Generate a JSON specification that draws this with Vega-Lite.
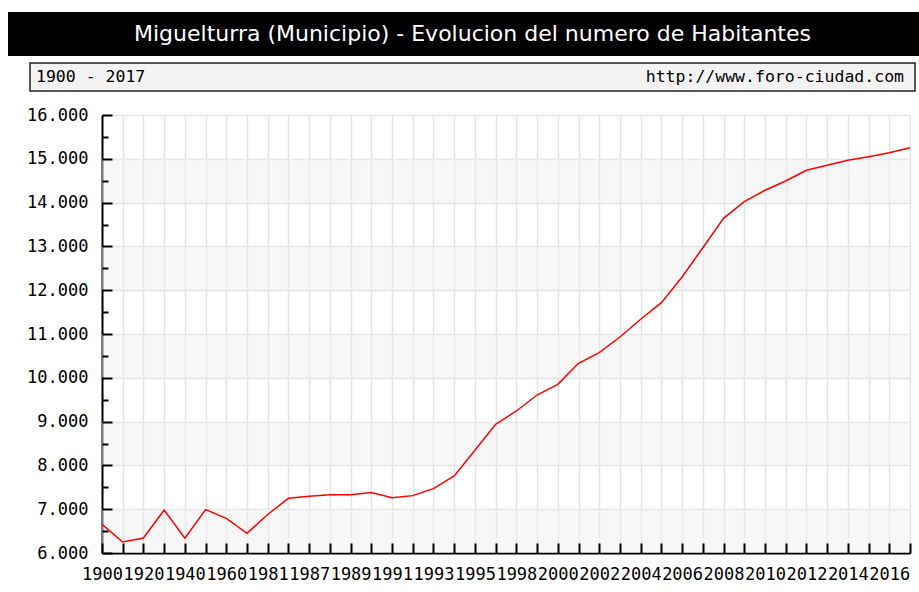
{
  "$schema": "https://vega.github.io/schema/vega-lite/v6.json",
  "background": "white",
  "padding": {"left": 8, "top": 12, "right": 0, "bottom": 0},
  "config": {"view": {"stroke": null}},
  "datasets": {
    "pop": [
      {"year": "1900", "value": 6655}, {"year": "1910", "value": 6251}, {"year": "1920", "value": 6342},
      {"year": "1930", "value": 6982}, {"year": "1940", "value": 6336}, {"year": "1950", "value": 6990},
      {"year": "1960", "value": 6792}, {"year": "1970", "value": 6450}, {"year": "1981", "value": 6880},
      {"year": "1986", "value": 7249}, {"year": "1987", "value": 7294}, {"year": "1988", "value": 7332},
      {"year": "1989", "value": 7332}, {"year": "1990", "value": 7380}, {"year": "1991", "value": 7263},
      {"year": "1992", "value": 7310}, {"year": "1993", "value": 7470}, {"year": "1994", "value": 7758},
      {"year": "1995", "value": 8345}, {"year": "1996", "value": 8938}, {"year": "1998", "value": 9242},
      {"year": "1999", "value": 9607}, {"year": "2000", "value": 9851}, {"year": "2001", "value": 10330},
      {"year": "2002", "value": 10573}, {"year": "2003", "value": 10931}, {"year": "2004", "value": 11336},
      {"year": "2005", "value": 11715}, {"year": "2006", "value": 12301}, {"year": "2007", "value": 12970},
      {"year": "2008", "value": 13641}, {"year": "2009", "value": 14021}, {"year": "2010", "value": 14281},
      {"year": "2011", "value": 14493}, {"year": "2012", "value": 14737}, {"year": "2013", "value": 14851},
      {"year": "2014", "value": 14966}, {"year": "2015", "value": 15048}, {"year": "2016", "value": 15139},
      {"year": "2017", "value": 15253}
    ],
    "bands": [
      {"lo": 6000, "hi": 7000}, {"lo": 8000, "hi": 9000}, {"lo": 10000, "hi": 11000},
      {"lo": 12000, "hi": 13000}, {"lo": 14000, "hi": 15000}
    ]
  },
  "bounds": "full",
  "spacing": 6,
  "vconcat": [
    {
      "width": 911,
      "height": 44,
      "view": {"fill": "black", "stroke": null},
      "data": {"values": [{"t": "Miguelturra (Municipio) - Evolucion del numero de Habitantes"}]},
      "mark": {"type": "text", "color": "white", "font": "DejaVu Sans", "fontSize": 22, "align": "center", "baseline": "middle", "dx": 9},
      "encoding": {"text": {"field": "t"}}
    },
    {
      "bounds": "full",
      "spacing": 14,
      "vconcat": [
        {
          "bounds": "flush",
          "spacing": 0,
          "hconcat": [
            {
              "width": 22,
              "height": 28,
              "data": {"values": [{}]},
              "mark": {"type": "text"},
              "encoding": {"text": {"value": ""}}
            },
            {
              "width": 885,
              "height": 28,
              "view": {"fill": "#f3f3f3", "stroke": "#222222", "strokeWidth": 1.5},
              "data": {"values": [{"a": "1900 - 2017", "b": "http://www.foro-ciudad.com"}]},
              "layer": [
                {
                  "mark": {"type": "text", "align": "left", "baseline": "middle", "dx": 6, "font": "DejaVu Sans Mono", "fontSize": 16.5, "color": "black"},
                  "encoding": {
                    "x": {"datum": 0, "type": "quantitative", "scale": {"domain": [0, 1]}, "axis": null},
                    "text": {"field": "a"}
                  }
                },
                {
                  "mark": {"type": "text", "align": "right", "baseline": "middle", "dx": -11, "font": "DejaVu Sans Mono", "fontSize": 16.5, "color": "black"},
                  "encoding": {
                    "x": {"datum": 1, "type": "quantitative", "scale": {"domain": [0, 1]}, "axis": null},
                    "text": {"field": "b"}
                  }
                }
              ]
            }
          ]
        },
        {
          "bounds": "flush",
          "spacing": 0,
          "hconcat": [
            {
              "width": 94,
              "height": 438,
              "data": {"values": [{}]},
              "mark": {"type": "text"},
              "encoding": {"text": {"value": ""}}
            },
            {
              "width": 808,
              "height": 438,
              "resolve": {"axis": {"x": "independent", "y": "independent"}},
              "layer": [
                {
                  "data": {"name": "bands"},
                  "mark": {"type": "rect", "fill": "#efefef", "opacity": 0.5},
                  "encoding": {
                    "y": {
                      "field": "lo", "type": "quantitative", "title": null,
                      "scale": {"domain": [6000, 16000], "nice": false, "zero": false},
                      "axis": {
                        "orient": "left", "title": null, "zindex": 1,
                        "values": [6000, 7000, 8000, 9000, 10000, 11000, 12000, 13000, 14000, 15000, 16000],
                        "offset": -10, "tickSize": 10, "ticks": true, "tickColor": "black", "tickWidth": 2,
                        "labels": false, "domain": false, "grid": false
                      }
                    },
                    "y2": {"field": "hi"}
                  }
                },
                {
                  "data": {"name": "pop"},
                  "mark": {"type": "point", "opacity": 0, "size": 0},
                  "encoding": {
                    "x": {
                      "field": "year", "type": "ordinal", "sort": null,
                      "scale": {"type": "point", "padding": 0},
                      "axis": {
                        "orient": "bottom", "title": null, "zindex": 1,
                        "offset": -10, "tickSize": 10, "ticks": true, "tickColor": "black", "tickWidth": 2,
                        "labels": false, "domain": false, "grid": false
                      }
                    },
                    "y": {
                      "field": "value", "type": "quantitative", "title": null,
                      "scale": {"domain": [6000, 16000], "nice": false, "zero": false},
                      "axis": {
                        "orient": "left", "title": null, "zindex": 1,
                        "values": [6500, 7500, 8500, 9500, 10500, 11500, 12500, 13500, 14500, 15500],
                        "offset": -6, "tickSize": 6, "ticks": true, "tickColor": "black", "tickWidth": 2,
                        "labels": false, "domain": false, "grid": false
                      }
                    }
                  }
                },
                {
                  "data": {"name": "pop"},
                  "mark": {"type": "line", "color": "#ff0000", "strokeWidth": 1.5},
                  "encoding": {
                    "x": {
                      "field": "year", "type": "ordinal", "sort": null,
                      "scale": {"type": "point", "padding": 0},
                      "axis": {
                        "orient": "bottom", "title": null, "labelAngle": 0,
                        "labelExpr": "indexof(['1910','1930','1950','1970','1986','1988','1990','1992','1994','1996','1999','2001','2003','2005','2007','2009','2011','2013','2015','2017'], datum.label) >= 0 ? '' : datum.label",
                        "labelFont": "DejaVu Sans Mono", "labelFontSize": 17, "labelColor": "black",
                        "labelBaseline": "top", "labelPadding": 13, "labelOverlap": false, "labelBound": false,
                        "ticks": false,
                        "grid": true, "gridColor": "#e3e3e3", "gridWidth": 1.5,
                        "domainColor": "black", "domainWidth": 2
                      }
                    },
                    "y": {
                      "field": "value", "type": "quantitative", "title": null,
                      "scale": {"domain": [6000, 16000], "nice": false, "zero": false},
                      "axis": {
                        "orient": "left", "title": null,
                        "values": [6000, 7000, 8000, 9000, 10000, 11000, 12000, 13000, 14000, 15000, 16000],
                        "labelExpr": "replace(format(datum.value, ','), ',', '.')",
                        "labelFont": "DejaVu Sans Mono", "labelFontSize": 17, "labelColor": "black",
                        "labelPadding": 14, "labelOverlap": false, "labelFlush": false,
                        "ticks": false,
                        "grid": true, "gridColor": "#e3e3e3", "gridWidth": 1.5,
                        "domainColor": "black", "domainWidth": 2
                      }
                    }
                  }
                }
              ]
            }
          ]
        }
      ]
    }
  ]
}
